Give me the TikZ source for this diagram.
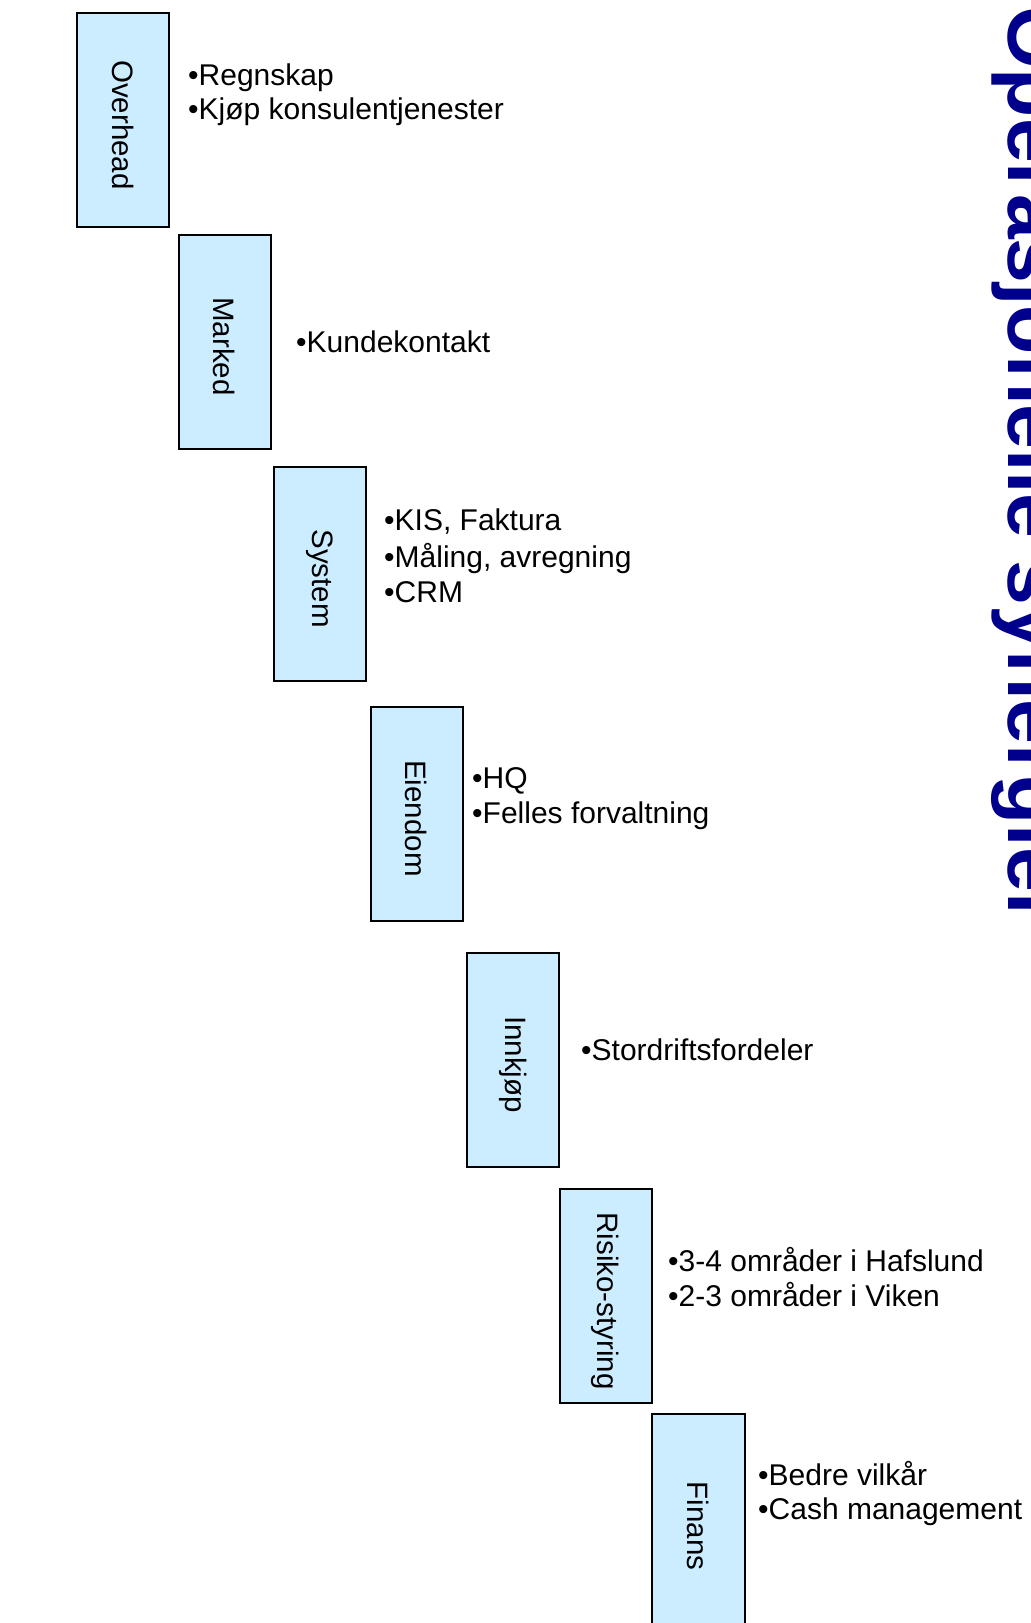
\documentclass[tikz,border=0pt]{standalone}
\usepackage{fontspec}
\setmainfont{Liberation Sans}
\definecolor{boxfill}{RGB}{204,236,255}
\definecolor{titleblue}{RGB}{0,0,140}
\begin{document}
\begin{tikzpicture}[x=1pt,y=-1pt,
  catbox/.style={draw=black, line width=2pt, fill=boxfill, rotate=-90,
    minimum width=214pt, minimum height=92pt, inner sep=0pt,
    font=\fontsize{29.5}{35}\selectfont, execute at begin node={\hspace*{10pt}}},
  item/.style={anchor=base west, inner sep=0pt, font=\fontsize{30}{35}\selectfont}]
\useasboundingbox (0,0) rectangle (1031,1623);
\clip (0,0) rectangle (1031,1623);
\fill[white] (0,0) rectangle (1031,1623);

% category boxes
\node[catbox] (ovh) at (123,120) {Overhead};
\node[catbox] (mkd) at (224.5,341.5) {Marked};
\node[catbox] (sys) at (320,573.5) {System};
\node[catbox] (eie) at (416.5,813.5) {Eiendom};
\node[catbox] (ink) at (513,1059.5) {Innkjøp};
\node[catbox] (ris) at (605.5,1296) {Risiko-styring};
\node[catbox, minimum height=93pt] (fin) at (698.5,1521) {Finans};

% bullet texts
\node[item] (t1a) at (188,85) {•Regnskap};
\node[item] (t1b) at (188,119) {•Kjøp konsulentjenester};
\node[item] (t2a) at (296,352) {•Kundekontakt};
\node[item] (t3a) at (384,530) {•KIS, Faktura};
\node[item] (t3b) at (384,567) {•Måling, avregning};
\node[item] (t3c) at (384,602) {•CRM};
\node[item] (t4a) at (472,788) {•HQ};
\node[item] (t4b) at (472,823) {•Felles forvaltning};
\node[item] (t5a) at (581,1060) {•Stordriftsfordeler};
\node[item] (t6a) at (668,1271) {•3-4 områder i Hafslund};
\node[item] (t6b) at (668,1306) {•2-3 områder i Viken};
\node[item] (t7a) at (758,1485) {•Bedre vilkår};
\node[item] (t7b) at (758,1519) {•Cash management};

% title
\node[rotate=-90, anchor=base west, inner sep=0pt, text=titleblue,
  font=\fontsize{80.5}{80.5}\selectfont\bfseries] (title) at (1008,6) {Operasjonelle synergier};
\end{tikzpicture}
\end{document}
